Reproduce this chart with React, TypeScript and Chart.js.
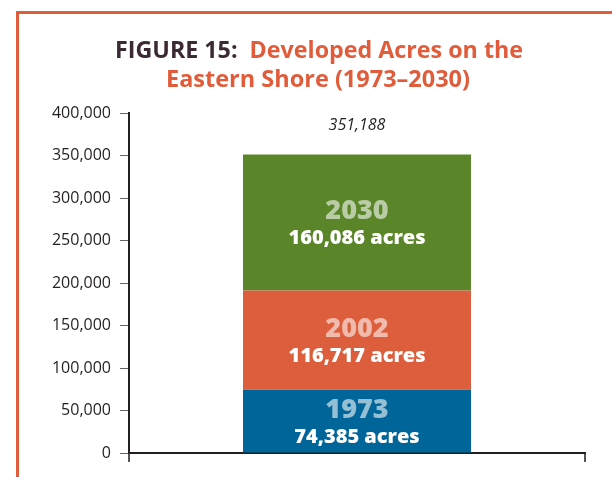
import React, { useEffect, useRef } from "react";
import { Chart, registerables } from "chart.js";

Chart.register(...registerables);

const categories = ["Eastern Shore"];
const years = ["1973", "2002", "2030"];
const acres = [74385, 116717, 160086];
const acreLabels = ["74,385 acres", "116,717 acres", "160,086 acres"];
const totalLabel = "351,188";
const barColors = ["#00669a", "#dc5e3c", "#5a8529"];
const titleDark = "FIGURE 15:";
const titleLine1 = "Developed Acres on the";
const titleLine2 = "Eastern Shore (1973–2030)";
const yMin = 0;
const yMax = 400000;
const yStep = 50000;

const ORANGE = "#e05c3a";
const DARK = "#3b2a33";
const FONT = "'Open Sans', 'DejaVu Sans', sans-serif";

function drawScaledLine(
  ctx: CanvasRenderingContext2D,
  parts: { text: string; color: string }[],
  cx: number,
  baseline: number,
  targetW: number
) {
  let total = 0;
  parts.forEach((p) => (total += ctx.measureText(p.text).width));
  const s = targetW / total;
  ctx.save();
  ctx.translate(cx - targetW / 2, baseline);
  ctx.scale(s, 1);
  let x = 0;
  ctx.textAlign = "left";
  ctx.textBaseline = "alphabetic";
  parts.forEach((p) => {
    ctx.fillStyle = p.color;
    ctx.fillText(p.text, x, 0);
    x += ctx.measureText(p.text).width;
  });
  ctx.restore();
}

const framePlugin = {
  id: "frameAndTitle",
  beforeDraw(chart: any) {
    const ctx = chart.ctx as CanvasRenderingContext2D;
    ctx.save();
    ctx.fillStyle = "#ffffff";
    ctx.fillRect(0, 0, chart.width, chart.height);
    ctx.fillStyle = ORANGE;
    ctx.fillRect(16, 11, chart.width, 3);
    ctx.fillRect(16, 11, 3, chart.height);
    ctx.restore();
  },
  afterDraw(chart: any) {
    const ctx = chart.ctx as CanvasRenderingContext2D;
    ctx.save();
    ctx.font = `bold 24px ${FONT}`;
    drawScaledLine(
      ctx,
      [
        { text: titleDark + "  ", color: DARK },
        { text: titleLine1, color: ORANGE },
      ],
      319,
      58,
      408
    );
    drawScaledLine(ctx, [{ text: titleLine2, color: ORANGE }], 318, 87, 304);
    ctx.restore();
  },
};

const labelPlugin = {
  id: "segmentLabels",
  afterDatasetsDraw(chart: any) {
    const ctx = chart.ctx as CanvasRenderingContext2D;
    ctx.save();
    ctx.textAlign = "center";
    ctx.textBaseline = "middle";
    let topY = Infinity;
    let cx = 0;
    chart.data.datasets.forEach((ds: any, i: number) => {
      const meta = chart.getDatasetMeta(i);
      const bar = meta.data[0];
      if (!bar) return;
      const { x, y, base } = bar.getProps(["x", "y", "base"], true);
      const cy = (y + base) / 2;
      cx = x;
      topY = Math.min(topY, y);
      ctx.font = `800 27px ${FONT}`;
      ctx.fillStyle = "rgba(255,255,255,0.58)";
      ctx.fillText(years[i], x, cy - 11);
      ctx.font = `800 20px ${FONT}`;
      ctx.fillStyle = "#ffffff";
      ctx.fillText(acreLabels[i], x, cy + 16);
    });
    ctx.font = `italic 16px ${FONT}`;
    ctx.fillStyle = "#231f20";
    ctx.fillText(totalLabel, cx, topY - 29);
    ctx.restore();
  },
};

export default function App() {
  const ref = useRef<HTMLCanvasElement | null>(null);
  useEffect(() => {
    if (!ref.current) return;
    const chart = new Chart(ref.current, {
      type: "bar",
      data: {
        labels: categories,
        datasets: years.map((yr, i) => ({
          label: yr,
          data: [acres[i]],
          backgroundColor: barColors[i],
          borderWidth: 0,
          barPercentage: 0.5,
          categoryPercentage: 1,
        })),
      },
      options: {
        responsive: false,
        animation: false,
        devicePixelRatio: 1,
        layout: { padding: { left: 0, right: 27, top: 113, bottom: 14 } },
        plugins: {
          legend: { display: false },
          tooltip: { enabled: false },
          title: { display: false },
        },
        scales: {
          x: {
            stacked: true,
            grid: {
              display: true,
              drawOnChartArea: false,
              drawTicks: true,
              tickLength: 9,
              color: "#555555",
              lineWidth: 2,
            },
            border: { display: true, color: "#231f20", width: 2 },
            ticks: { display: false },
            afterFit: (scale: any) => {
              scale.height = 10;
            },
          },
          y: {
            stacked: true,
            min: yMin,
            max: yMax,
            grid: {
              display: true,
              drawOnChartArea: false,
              drawTicks: true,
              tickLength: 9,
              color: "#666666",
              lineWidth: 1,
            },
            border: { display: true, color: "#231f20", width: 2 },
            ticks: {
              stepSize: yStep,
              padding: 9,
              color: "#231f20",
              font: { family: FONT, size: 16 },
              callback: (v: any) => Number(v).toLocaleString("en-US"),
            },
            afterFit: (scale: any) => {
              scale.width = 129;
            },
          },
        },
      },
      plugins: [framePlugin, labelPlugin],
    });
    return () => chart.destroy();
  }, []);
  return (
    <canvas
      ref={ref}
      width={612}
      height={477}
      style={{ position: "fixed", left: 0, top: 0, display: "block" }}
    />
  );
}
